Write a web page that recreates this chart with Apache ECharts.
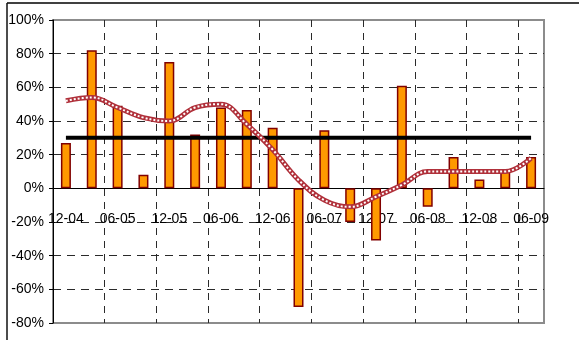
<!DOCTYPE html>
<html>
<head>
<meta charset="utf-8">
<script src="https://cdn.jsdelivr.net/npm/echarts@6/dist/echarts.min.js"></script>
<style>
  html, body { margin: 0; padding: 0; background: #fff; }
  #chart { width: 579px; height: 340px; }
</style>
</head>
<body>
<div id="chart"></div>
<script>
// Quarterly periods (every other one is labelled on the axis)
const periods = ['12-04','03-05','06-05','09-05','12-05','03-06','06-06','09-06','12-06','03-07',
                 '06-07','09-07','12-07','03-08','06-08','09-08','12-08','03-09','06-09'];
// Quarterly change, percent
const changes = [27, 82, 49, 8, 75, 32, 48, 46.5, 36, -70.5, 34.5, -20, -31, 61, -11, 18.6, 5.2, 10.7, 18.6];
// Smoothed trend, percent
const trend = [52, 54, 48, 42, 40, 48, 50, 38, 23, 5, -7, -11, -5, 2, 10, 10, 10, 10, 18];
// Reference level, percent
const reference = periods.map(() => 30);
// Value axis range
const yMin = -80, yMax = 100, yStep = 20;

const FONT = '"Liberation Sans Narrow", "Liberation Sans", Arial, sans-serif';
const GRID = { left: 53, top: 20, right: 35, bottom: 17 };
const chart = echarts.init(document.getElementById('chart'), null, { renderer: 'canvas' });

chart.setOption({
  animation: false,
  backgroundColor: '#fff',
  grid: Object.assign({
    outerBoundsMode: 'none', containLabel: false,
    show: true, borderColor: '#8c8c8c', borderWidth: 2, backgroundColor: 'transparent'
  }, GRID),
  xAxis: {
    type: 'category',
    data: periods,
    boundaryGap: true,
    axisLine: { onZero: true, lineStyle: { color: '#000', width: 1 } },
    axisTick: { show: false, interval: 1 },
    // labels sit just under the zero line, inside the plot
    axisLabel: { interval: 1, margin: -111, color: '#000', fontFamily: FONT, fontSize: 14 },
    splitLine: { show: true, interval: 1, showMinLine: false, showMaxLine: false,
      lineStyle: { color: '#2a2a2a', width: 1, type: [7, 6] } }
  },
  yAxis: {
    type: 'value', min: yMin, max: yMax, interval: yStep,
    axisLine: { show: true, onZero: false, lineStyle: { color: '#000', width: 1 } },
    axisTick: { show: true, length: 4, lineStyle: { color: '#000' } },
    axisLabel: { formatter: '{value}%', color: '#000', margin: 9, fontFamily: FONT, fontSize: 14 },
    splitLine: { show: true, showMinLine: false, showMaxLine: false,
      lineStyle: { color: '#2a2a2a', width: 1, type: [8, 6] } }
  },
  graphic: [
    { type: 'line', shape: { x1: 7, y1: 3, x2: 579, y2: 3 }, style: { stroke: '#404040', lineWidth: 2 }, z: 10 },
    { type: 'line', shape: { x1: 7, y1: 3, x2: 7, y2: 340 }, style: { stroke: '#111', lineWidth: 1.5 }, z: 10 }
  ],
  series: [
    { type: 'bar', data: changes, barWidth: 10, z: 2,
      itemStyle: { color: '#FF9900', borderColor: '#800000', borderWidth: 1.5 } },
    { type: 'line', data: reference, symbol: 'none', z: 3,
      lineStyle: { color: '#000', width: 4 } },
    { type: 'line', data: trend, smooth: 0.4, symbol: 'none', z: 4,
      lineStyle: { color: '#b0303a', width: 5 } },
    { type: 'line', data: trend, smooth: 0.4, symbol: 'none', z: 5,
      lineStyle: { color: '#fff', width: 2, type: [2, 2] } }
  ]
});
</script>
</body>
</html>
